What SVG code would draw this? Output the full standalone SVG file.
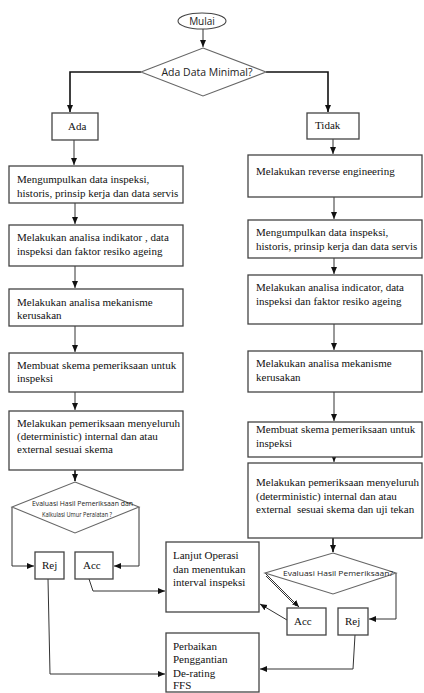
<svg xmlns="http://www.w3.org/2000/svg" width="424" height="693" viewBox="0 0 424 693">
<style>
.box{fill:#fff;stroke:#444;stroke-width:1.3}
.dia{fill:#fff;stroke:#666;stroke-width:1.1}
.t{font-family:"Liberation Serif","Times New Roman",serif;font-size:11px;fill:#111}
.s{font-family:"Open Sans","Liberation Sans",Arial,sans-serif;fill:#222}
.c{fill:none;stroke:#333;stroke-width:1}
.ck{fill:none;stroke:#111;stroke-width:1.6}
</style>
<defs>
<marker id="ah" markerWidth="8" markerHeight="8" refX="7" refY="4" orient="auto" markerUnits="userSpaceOnUse">
<path d="M0,1 L7,4 L0,7 z" fill="#111"/>
</marker>
</defs>
<rect width="424" height="693" fill="#fff"/>

<g id="connectors">
<path class="c" d="M203,29 V47" marker-end="url(#ah)"/>
<path class="ck" d="M141,72 H70 V112" marker-end="url(#ah)"/>
<path class="ck" d="M266,72 H328 V112" marker-end="url(#ah)"/>
<path class="c" d="M74,140 V165" marker-end="url(#ah)"/>
<path class="c" d="M75,203 V224" marker-end="url(#ah)"/>
<path class="c" d="M75,266 V288" marker-end="url(#ah)"/>
<path class="c" d="M75,326 V352" marker-end="url(#ah)"/>
<path class="c" d="M75,392 V410" marker-end="url(#ah)"/>
<path class="ck" d="M75,470 V481" marker-end="url(#ah)"/>
<path class="c" d="M12,507 V566 H34" marker-end="url(#ah)"/>
<path class="c" d="M139,507 V566 H114" marker-end="url(#ah)"/>
<path class="c" d="M89,579 L93,591 H165" marker-end="url(#ah)"/>
<path class="c" d="M48,579 L50,674 H165" marker-end="url(#ah)"/>
<path class="c" d="M333,139 V154" marker-end="url(#ah)"/>
<path class="c" d="M334,197 V219" marker-end="url(#ah)"/>
<path class="c" d="M334,258 V274" marker-end="url(#ah)"/>
<path class="c" d="M334,324 V350" marker-end="url(#ah)"/>
<path class="c" d="M334,392 V421" marker-end="url(#ah)"/>
<path class="c" d="M334,457 V462" marker-end="url(#ah)"/>
<path class="ck" d="M333,538 V552" marker-end="url(#ah)"/>
<path class="c" d="M265,573 L299,607" marker-end="url(#ah)"/>
<path class="c" d="M266,576 L296,606"/>
<path class="c" d="M396,573 V619 H369" marker-end="url(#ah)"/>
<path class="c" d="M287,620 L260,604" marker-end="url(#ah)"/>
<path class="c" d="M355,635 L353,669 H260" marker-end="url(#ah)"/>
</g>

<g id="mulai">
<ellipse cx="202" cy="21" rx="24" ry="8" fill="#fff" stroke="#444" stroke-width="1.1"/>
<text class="s" x="202" y="24.5" font-size="10" text-anchor="middle">Mulai</text>
</g>

<g id="dec1">
<polygon class="dia" points="203,48 266,72 203,96 141,72"/>
<text class="s" x="207" y="75.5" font-size="10.5" text-anchor="middle" textLength="91" lengthAdjust="spacingAndGlyphs">Ada Data Minimal?</text>
</g>

<g id="ada">
<rect class="box" x="52" y="113" width="46" height="27"/>
<text class="t" x="68" y="130">Ada</text>
</g>

<g id="tidak">
<rect class="box" x="307" y="113" width="52" height="26"/>
<text class="t" x="315" y="129">Tidak</text>
</g>

<g id="l1">
<rect class="box" x="9" y="166" width="174" height="37"/>
<text class="t" x="17" y="183">Mengumpulkan data inspeksi,</text>
<text class="t" x="17" y="196.5">historis, prinsip kerja dan data servis</text>
</g>

<g id="l2">
<rect class="box" x="9" y="225" width="174" height="41"/>
<text class="t" x="17" y="241">Melakukan analisa indikator , data</text>
<text class="t" x="17" y="254.5">inspeksi dan faktor resiko ageing</text>
</g>

<g id="l3">
<rect class="box" x="9" y="289" width="174" height="37"/>
<text class="t" x="17" y="305.5">Melakukan analisa mekanisme</text>
<text class="t" x="17" y="318.5">kerusakan</text>
</g>

<g id="l4">
<rect class="box" x="9" y="353" width="174" height="39"/>
<text class="t" x="17" y="369">Membuat skema pemeriksaan untuk</text>
<text class="t" x="17" y="382">inspeksi</text>
</g>

<g id="l5">
<rect class="box" x="9" y="411" width="174" height="59"/>
<text class="t" x="17" y="427">Melakukan pemeriksaan menyeluruh</text>
<text class="t" x="17" y="440">(deterministic) internal dan atau</text>
<text class="t" x="17" y="453">external sesuai skema</text>
</g>

<g id="dec2">
<polygon class="dia" points="75,482 139,507 75,533 12,507"/>
<text class="s" x="32" y="505.5" font-size="7" textLength="101" lengthAdjust="spacingAndGlyphs">Evaluasi Hasil Pemeriksaan dan</text>
<text class="s" x="42" y="516.5" font-size="7" textLength="70" lengthAdjust="spacingAndGlyphs">Kalkulasi Umur Peralatan ?</text>
</g>

<g id="rej1">
<rect class="box" x="35" y="552" width="29" height="27"/>
<text class="t" x="42" y="569">Rej</text>
</g>

<g id="acc1">
<rect class="box" x="75" y="552" width="38" height="27"/>
<text class="t" x="83" y="569">Acc</text>
</g>

<g id="lanjut">
<rect class="box" x="166" y="542" width="93" height="70"/>
<text class="t" x="173" y="559">Lanjut Operasi</text>
<text class="t" x="173" y="572.5">dan menentukan</text>
<text class="t" x="173" y="586">interval inspeksi</text>
</g>

<g id="perbaikan">
<rect class="box" x="166" y="633" width="93" height="59"/>
<text class="t" x="173" y="650">Perbaikan</text>
<text class="t" x="173" y="663">Penggantian</text>
<text class="t" x="173" y="676.5">De-rating</text>
<text class="t" x="173" y="689">FFS</text>
</g>

<g id="r1">
<rect class="box" x="248" y="155" width="174" height="42"/>
<text class="t" x="256" y="175">Melakukan reverse engineering</text>
</g>

<g id="r2">
<rect class="box" x="248" y="220" width="174" height="38"/>
<text class="t" x="256" y="236">Mengumpulkan data inspeksi,</text>
<text class="t" x="256" y="249.5">historis, prinsip kerja dan data servis</text>
</g>

<g id="r3">
<rect class="box" x="248" y="275" width="174" height="49"/>
<text class="t" x="256" y="291">Melakukan analisa indicator, data</text>
<text class="t" x="256" y="304.5">inspeksi dan faktor resiko ageing</text>
</g>

<g id="r4">
<rect class="box" x="248" y="351" width="174" height="41"/>
<text class="t" x="256" y="367">Melakukan analisa mekanisme</text>
<text class="t" x="256" y="381">kerusakan</text>
</g>

<g id="r5">
<rect class="box" x="248" y="422" width="174" height="35"/>
<text class="t" x="256" y="433">Membuat skema pemeriksaan untuk</text>
<text class="t" x="256" y="447">inspeksi</text>
</g>

<g id="r6">
<rect class="box" x="248" y="463" width="174" height="75"/>
<text class="t" x="256" y="486">Melakukan pemeriksaan menyeluruh</text>
<text class="t" x="256" y="499.5">(deterministic) internal dan atau</text>
<text class="t" x="256" y="513" xml:space="preserve">external  sesuai skema dan uji tekan</text>
</g>

<g id="dec3">
<polygon class="dia" points="333,553 396,573 333,594 265,573"/>
<text class="s" x="283" y="576" font-size="8" textLength="110" lengthAdjust="spacingAndGlyphs">Evaluasi Hasil Pemeriksaan?</text>
</g>

<g id="acc2">
<rect class="box" x="287" y="608" width="39" height="27"/>
<text class="t" x="294" y="625">Acc</text>
</g>

<g id="rej2">
<rect class="box" x="338" y="608" width="30" height="27"/>
<text class="t" x="345" y="625">Rej</text>
</g>
</svg>
